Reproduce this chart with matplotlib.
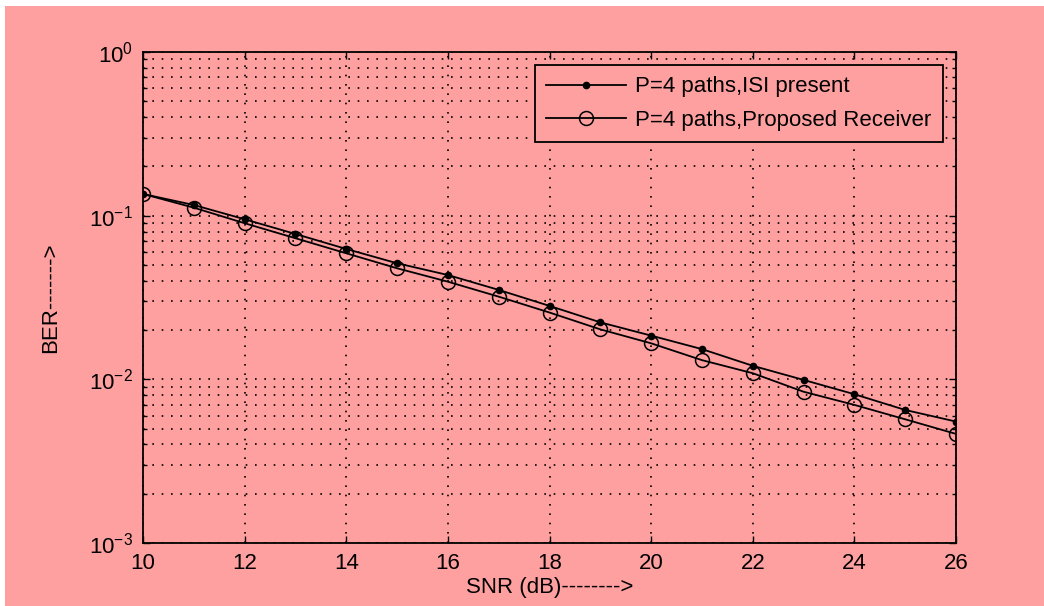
import matplotlib
matplotlib.use("Agg")
import matplotlib.pyplot as plt
from matplotlib.patches import Rectangle
from matplotlib.ticker import LogLocator, NullFormatter, MultipleLocator

plt.rcParams["font.family"] = ["Liberation Sans", "DejaVu Sans"]
plt.rcParams["mathtext.fontset"] = "custom"
plt.rcParams["mathtext.rm"] = "Liberation Sans"
plt.rcParams["mathtext.it"] = "Liberation Sans"

snr_db = [10, 11, 12, 13, 14, 15, 16, 17, 18, 19, 20, 21, 22, 23, 24, 25, 26]
ber_isi = [0.1357, 0.1162, 0.0951, 0.0773, 0.0626, 0.0512, 0.0434, 0.0352,
           0.0281, 0.0223, 0.0185, 0.0153, 0.0121, 0.00992, 0.00811, 0.0065,
           0.00552]
ber_proposed = [0.1357, 0.1119, 0.0899, 0.0728, 0.0589, 0.0477, 0.0395, 0.0320,
                0.0256, 0.0202, 0.0166, 0.0131, 0.0109, 0.0084, 0.00698, 0.0057,
                0.00464]

bg = "#ffa0a0"
fs = 16

fig = plt.figure(figsize=(10.44, 6.06), dpi=100)
fig.patch.set_facecolor("white")
fig.patches.append(Rectangle((5 / 1044, 0), 1, 1 - 6 / 606, transform=fig.transFigure,
                             facecolor=bg, edgecolor="none", zorder=-10))

ax = fig.add_axes([143 / 1044, 63 / 606, (956 - 143) / 1044, (543 - 52) / 606])
ax.set_facecolor(bg)

ax.semilogy(snr_db, ber_isi, color="black", linewidth=1.3, marker="o",
            markersize=4.5, markerfacecolor="black", label="P=4 paths,ISI present")
ax.semilogy(snr_db, ber_proposed, color="black", linewidth=1.3, marker="o",
            markersize=10, markerfacecolor="none", markeredgewidth=1.1,
            label="P=4 paths,Proposed Receiver")

ax.set_xlim(10, 26)
ax.set_ylim(1e-3, 1)
ax.xaxis.set_major_locator(MultipleLocator(2))
ax.yaxis.set_major_locator(LogLocator(base=10, numticks=10))
ax.yaxis.set_minor_locator(LogLocator(base=10, subs=range(2, 10), numticks=20))
ax.yaxis.set_minor_formatter(NullFormatter())

dots = (0, (1, 4.6))
ax.grid(True, which="major", color="black", linestyle=dots, linewidth=1.2)
ax.grid(True, which="minor", axis="y", color="black", linestyle=dots, linewidth=1.2)

ax.tick_params(which="both", direction="in", top=True, right=True,
               labelsize=fs, colors="black")
ax.tick_params(which="major", length=5, width=1, pad=7)
ax.tick_params(which="minor", length=3, width=1)
for s in ax.spines.values():
    s.set_linewidth(1.3)
    s.set_color("black")

ax.set_xlabel("SNR (dB)-------->", fontsize=fs, labelpad=2)
ax.set_ylabel("BER------->", fontsize=fs, labelpad=20)

leg = ax.legend(loc="upper right", fontsize=fs, frameon=True, fancybox=False,
                facecolor=bg, edgecolor="black", framealpha=1,
                borderaxespad=0.6, handlelength=3.6, labelspacing=0.55,
                handletextpad=0.4, borderpad=0.5)
leg.get_frame().set_linewidth(1.3)

fig.savefig("out.png", dpi=100, facecolor=fig.get_facecolor())
